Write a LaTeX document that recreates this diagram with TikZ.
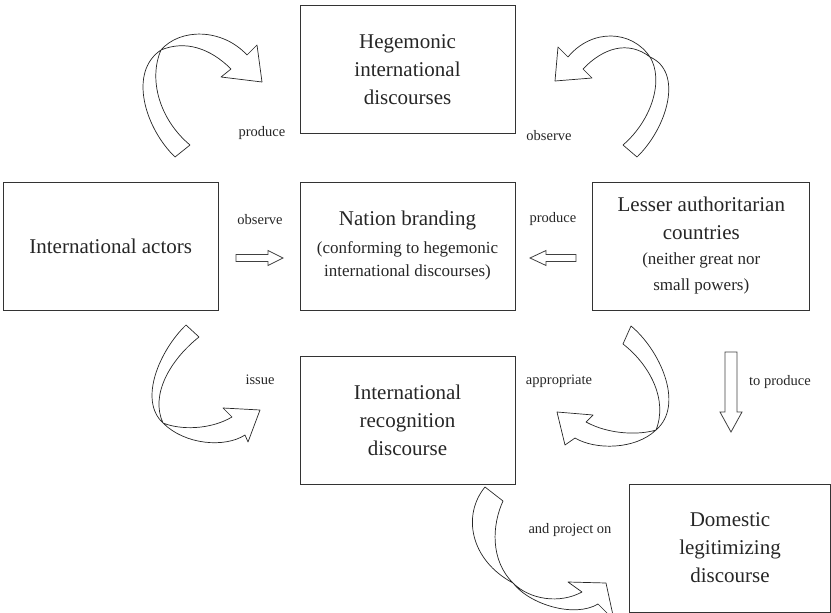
\documentclass[tikz,border=0pt]{standalone}
\usepackage{fontspec}
\setmainfont{Liberation Serif}
\usetikzlibrary{positioning}

\tikzset{
  box/.style={draw=black!80, line width=0.8pt, align=center, inner sep=0pt,
    minimum width=215pt, minimum height=128pt, text=black!85,
    font=\fontsize{21}{28}\selectfont},
  lbl/.style={inner sep=0pt, text=black!85, font=\fontsize{14.5}{17}\selectfont},
  curv/.style={draw=black!85, line width=0.7pt, line join=round},
  blk/.style={draw=black!75, line width=0.8pt, line join=miter},
}
\newcommand{\subtxt}{\fontsize{17}{23}\selectfont}

\begin{document}
\begin{tikzpicture}[x=1pt,y=-1pt]
\useasboundingbox (0,0) rectangle (831,613);

% boxes
\node[box] (brand) at (407.5,246) {Nation branding\\{\subtxt (conforming to hegemonic}\\[-5pt]{\subtxt international discourses)}};
\node[box, above=48pt of brand] (heg) {Hegemonic\\international\\discourses};
\node[box, left=81pt of brand] (actors) {International actors};
\node[box, right=77pt of brand, minimum width=217pt] (lesser) {Lesser authoritarian\\countries\\[-3pt]{\subtxt (neither great nor}\\[-2pt]{\subtxt small powers)}};
\node[box, below=46pt of brand] (recog) {International\\recognition\\discourse};
\node[box, minimum width=201pt] (domestic) at (730,548) {Domestic\\legitimizing\\discourse};

% labels
\node[lbl] (lprod1) at (262,133) {produce};
\node[lbl] (lobs1) at (549,136) {observe};
\node[lbl] (lobs2) at (260,220) {observe};
\node[lbl] (lprod2) at (553,219) {produce};
\node[lbl] (lissue) at (260,380) {issue};
\node[lbl] (lappr) at (559,381) {appropriate};
\node[lbl] (lproj) at (570,530) {and project on};
\node[lbl] (ltoprod) at (780,382) {to produce};

% straight block arrows
\coordinate (oa) at (236,258);
\coordinate (pa) at (576,258);
\coordinate (da) at (731,352);
\draw[blk] (oa) ++(0,-3.5) -- ++(32,0) -- ++(0,-4) -- ++(15,7.5) -- ++(-15,7.5) -- ++(0,-4) -- ++(-32,0) -- cycle;
\draw[blk] (pa) ++(0,-3.5) -- ++(-30,0) -- ++(0,-4) -- ++(-16,7.5) -- ++(16,7.5) -- ++(0,-4) -- ++(30,0) -- cycle;
\draw[blk] (da) ++(-6,0) -- ++(0,60) -- ++(-5,0) -- ++(11,20) -- ++(11,-20) -- ++(-5,0) -- ++(0,-60) -- cycle;

% curved arrows
% produce (top left)
\draw[curv] (175,157) .. controls (145,128) and (128,72) .. (161,50)
  .. controls (180,28) and (222,28) .. (247,55)
  -- (257,45) -- (262,82) -- (221,77) -- (231,69)
  .. controls (210,48) and (185,40) .. (161,50)
  .. controls (148,80) and (160,120) .. (190,145) -- cycle;
% observe (top right)
\draw[curv] (637,157) .. controls (667,128) and (684,72) .. (650,57)
  .. controls (632,30) and (592,28) .. (568,57)
  -- (558,47) -- (555,81) -- (592,78) -- (583,69)
  .. controls (603,48) and (628,40) .. (650,57)
  .. controls (664,80) and (652,120) .. (623,145) -- cycle;
% issue
\draw[curv] (186,325) .. controls (160,350) and (138,400) .. (163,423)
  .. controls (185,445) and (225,448) .. (245,435)
  -- (248,442) -- (260,410) -- (223,408) -- (232,417)
  .. controls (210,430) and (180,430) .. (163,423)
  .. controls (150,395) and (170,360) .. (199,337) -- cycle;
% appropriate
\draw[curv] (631,326) .. controls (660,350) and (685,405) .. (656,430)
  .. controls (635,450) and (595,450) .. (575,438)
  -- (565,445) -- (557,412) -- (593,415) -- (586,422)
  .. controls (610,435) and (640,435) .. (656,430)
  .. controls (668,400) and (650,365) .. (623,344) -- cycle;
% and project on
\draw[curv] (485,487) .. controls (462,515) and (470,560) .. (513,583)
  .. controls (530,605) and (575,618) .. (598,604)
  -- (614,620) -- (606,583) -- (568,582) -- (582,592)
  .. controls (560,604) and (530,600) .. (513,583)
  .. controls (490,560) and (492,525) .. (503,501) -- cycle;
\end{tikzpicture}
\end{document}
